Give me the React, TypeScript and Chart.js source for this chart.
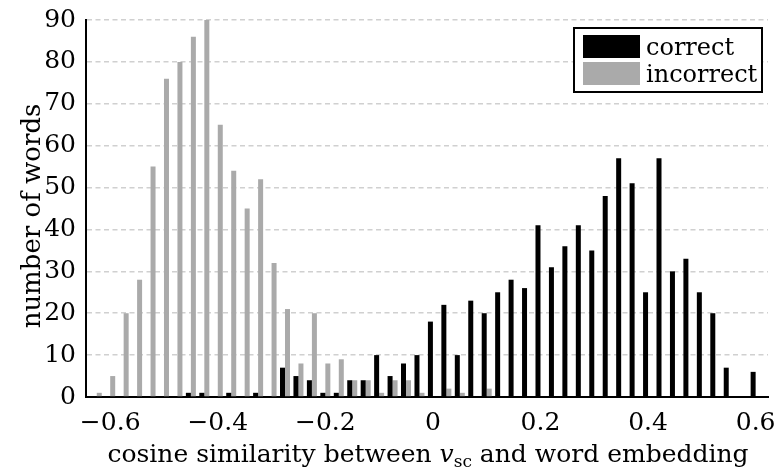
import React, { useEffect, useRef } from 'react';
import { Chart, registerables } from 'chart.js';

Chart.register(...registerables);

// Histogram bin centres (cosine similarity)
const binCenters = [
  -0.625, -0.6, -0.575, -0.55, -0.525, -0.5, -0.475, -0.45, -0.425, -0.4,
  -0.375, -0.35, -0.325, -0.3, -0.275, -0.25, -0.225, -0.2, -0.175, -0.15,
  -0.125, -0.1, -0.075, -0.05, -0.025, 0, 0.025, 0.05, 0.075, 0.1,
  0.125, 0.15, 0.175, 0.2, 0.225, 0.25, 0.275, 0.3, 0.325, 0.35,
  0.375, 0.4, 0.425, 0.45, 0.475, 0.5, 0.525, 0.55, 0.575, 0.6,
];

const correctCounts = [
  0, 0, 0, 0, 0, 0, 0, 1, 1, 0,
  1, 0, 1, 0, 7, 5, 4, 1, 1, 4,
  4, 10, 5, 8, 10, 18, 22, 10, 23, 20,
  25, 28, 26, 41, 31, 36, 41, 35, 48, 57,
  51, 25, 57, 30, 33, 25, 20, 7, 0, 6,
];

const incorrectCounts = [
  1, 5, 20, 28, 55, 76, 80, 86, 90, 65,
  54, 45, 52, 32, 21, 8, 20, 8, 9, 4,
  4, 1, 4, 4, 1, 0, 2, 1, 0, 2,
  0, 0, 0, 0, 0, 0, 0, 0, 0, 0,
  0, 0, 0, 0, 0, 0, 0, 0, 0, 0,
];

const seriesLabels = ['correct', 'incorrect'];
const seriesColors = ['#000000', '#aaaaaa'];
const xTickValues = [-0.6, -0.4, -0.2, 0, 0.2, 0.4, 0.6];
const xRange = [-0.645, 0.623];
const yRange = [0, 90];
const yStep = 10;
const xTitleParts = ['cosine similarity between ', 'v', 'sc', ' and word embedding'];
const yTitle = 'number of words';

const FONT = '"DejaVu Serif", serif';

const decorPlugin = {
  id: 'decor',
  afterDraw(chart: any) {
    const ctx = chart.ctx as CanvasRenderingContext2D;
    const area = chart.chartArea;
    ctx.save();
    ctx.fillStyle = '#000';

    // x-axis title with italic v and subscript "sc"
    const mainFont = `25px ${FONT}`;
    const italFont = `italic 25px ${FONT}`;
    const subFont = `17px ${FONT}`;
    const parts = [
      { t: xTitleParts[0], f: mainFont, dy: 0 },
      { t: xTitleParts[1], f: italFont, dy: 0 },
      { t: xTitleParts[2], f: subFont, dy: 5 },
      { t: xTitleParts[3], f: mainFont, dy: 0 },
    ];
    let total = 0;
    for (const p of parts) {
      ctx.font = p.f;
      total += ctx.measureText(p.t).width;
    }
    let x = (area.left + area.right) / 2 - total / 2 + 1;
    const baseY = 462;
    ctx.textBaseline = 'alphabetic';
    ctx.textAlign = 'left';
    for (const p of parts) {
      ctx.font = p.f;
      ctx.fillText(p.t, x, baseY + p.dy);
      x += ctx.measureText(p.t).width;
    }

    // y-axis title
    ctx.save();
    ctx.translate(40, 216);
    ctx.rotate(-Math.PI / 2);
    ctx.font = `26px ${FONT}`;
    ctx.textAlign = 'center';
    ctx.textBaseline = 'alphabetic';
    ctx.fillText(yTitle, 0, 0);
    ctx.restore();

    // legend box
    const bx = 574, by = 28, bw = 188, bh = 64;
    ctx.fillStyle = '#ffffff';
    ctx.fillRect(bx, by, bw, bh);
    ctx.strokeStyle = '#000';
    ctx.lineWidth = 2;
    ctx.strokeRect(bx, by, bw, bh);
    const datasets = chart.data.datasets;
    ctx.font = `24px ${FONT}`;
    ctx.textAlign = 'left';
    ctx.textBaseline = 'alphabetic';
    datasets.forEach((ds: any, i: number) => {
      const sy = 35 + i * 27;
      ctx.fillStyle = ds.backgroundColor;
      ctx.fillRect(583, sy, 57, 23);
      ctx.fillStyle = '#000';
      ctx.fillText(ds.label, 646, sy + 20);
    });
    ctx.restore();
  },
};

export default function App() {
  const canvasRef = useRef<HTMLCanvasElement | null>(null);

  useEffect(() => {
    document.body.style.margin = '0';
    const canvas = canvasRef.current;
    if (!canvas) return;
    const chart = new Chart(canvas, {
      type: 'bar',
      data: {
        datasets: [
          {
            label: seriesLabels[0],
            data: binCenters.map((c, i) => ({ x: c, y: correctCounts[i] })),
            backgroundColor: seriesColors[0],
            borderWidth: 0,
          },
          {
            label: seriesLabels[1],
            data: binCenters.map((c, i) => ({ x: c, y: incorrectCounts[i] })),
            backgroundColor: seriesColors[1],
            borderWidth: 0,
          },
        ],
      },
      options: {
        animation: false,
        responsive: false,
        devicePixelRatio: 1,
        categoryPercentage: 0.744,
        barPercentage: 1.0,
        layout: { padding: { top: 20, right: 6, left: 0, bottom: 0 } },
        plugins: {
          legend: { display: false },
          tooltip: { enabled: false },
          title: { display: false },
        },
        scales: {
          x: {
            type: 'linear',
            min: xRange[0],
            max: xRange[1],
            offset: false,
            grid: { display: false, drawTicks: false, offset: false },
            border: { display: true, color: '#000', width: 2 },
            afterBuildTicks: (scale: any) => {
              scale.ticks = xTickValues.map((v) => ({ value: v }));
            },
            afterFit: (scale: any) => {
              scale.height = 73;
              scale.paddingLeft = 0;
              scale.paddingRight = 0;
            },
            ticks: {
              color: '#000',
              font: { family: FONT, size: 25 },
              padding: 11,
              maxRotation: 0,
              autoSkip: false,
              callback: (v: any) => {
                const r = Math.round(Number(v) * 10) / 10;
                if (r === 0) return '0';
                return (r < 0 ? '\u2212' : '') + Math.abs(r).toFixed(1);
              },
            },
          },
          y: {
            type: 'linear',
            min: yRange[0],
            max: yRange[1],
            grid: {
              display: true,
              drawTicks: false,
              color: '#d0d0d0',
              lineWidth: 1.6,
            },
            border: { display: true, color: '#000', width: 2, dash: [5, 3.5] },
            afterFit: (scale: any) => {
              scale.width = 86;
              scale.paddingTop = 0;
              scale.paddingBottom = 0;
            },
            ticks: {
              stepSize: yStep,
              color: '#000',
              font: { family: FONT, size: 25 },
              padding: 10,
            },
          },
        },
      },
      plugins: [decorPlugin],
    } as any);
    return () => chart.destroy();
  }, []);

  return (
    <div style={{ position: 'absolute', left: 0, top: 0, width: 774, height: 470, background: '#fff' }}>
      <canvas ref={canvasRef} width={774} height={470} style={{ display: 'block' }} />
    </div>
  );
}
